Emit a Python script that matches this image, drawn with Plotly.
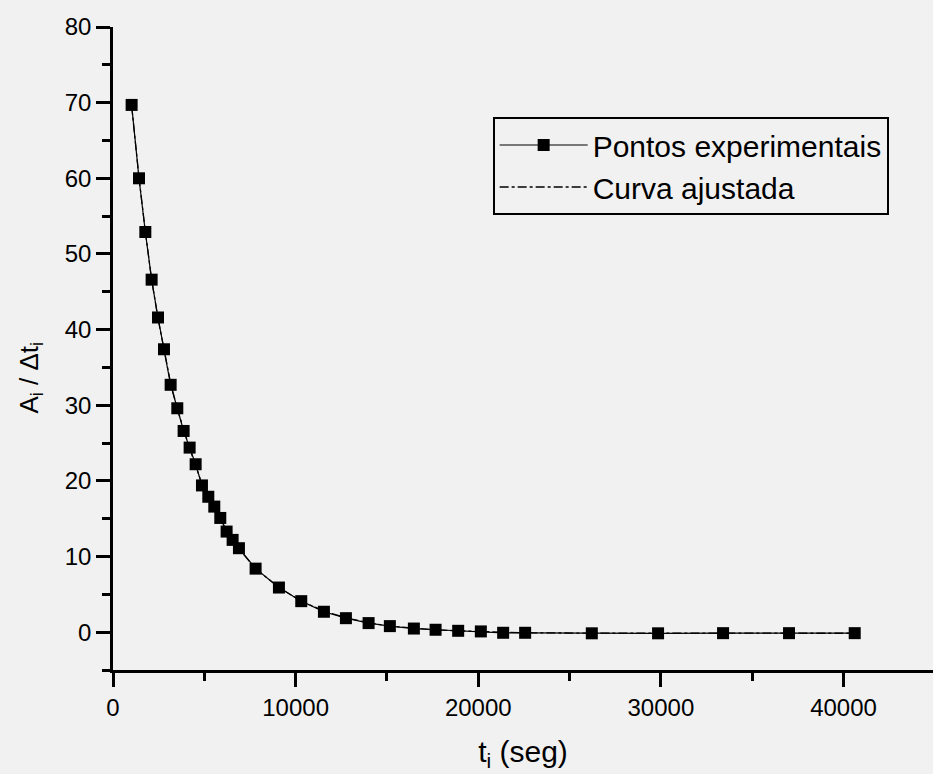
import plotly.graph_objects as go

# Experimental points (t_i in s, A_i/Δt_i)
t_exp = [1020, 1423, 1770, 2115, 2463, 2791, 3156, 3521, 3867, 4196, 4525, 4871,
         5218, 5546, 5875, 6221, 6550, 6896, 7808, 9086, 10308, 11549, 12753,
         13995, 15160, 16475, 17663, 18900, 20142, 21363, 22567, 26218, 29846,
         33404, 37017, 40613]
v_exp = [69.7, 60.0, 52.9, 46.6, 41.6, 37.4, 32.7, 29.6, 26.6, 24.4, 22.2, 19.4,
         17.9, 16.6, 15.1, 13.3, 12.2, 11.1, 8.4, 5.9, 4.1, 2.7, 1.85,
         1.2, 0.8, 0.48, 0.32, 0.18, 0.1, -0.08, -0.08, -0.15, -0.15,
         -0.13, -0.13, -0.13]

# Fitted curve
t_fit = [1020, 1423, 1770, 2115, 2463, 2791, 3156, 3521, 3867, 4196, 4525, 4871,
         5218, 5546, 5875, 6221, 6550, 6896, 7808, 9086, 10308, 11549, 12753,
         13995, 15160, 16475, 17663, 18900, 20142, 21363, 22567, 26218, 29846,
         33404, 37017, 40613]
v_fit = [69.6, 60.1, 53.0, 46.6, 41.5, 37.3, 32.9, 29.5, 26.7, 24.3, 22.0, 19.6,
         17.9, 16.5, 15.0, 13.4, 12.2, 11.0, 8.4, 5.9, 4.1, 2.8, 1.9,
         1.25, 0.8, 0.5, 0.3, 0.18, 0.08, -0.05, -0.08, -0.13, -0.14,
         -0.14, -0.14, -0.14]

x_ticks = [0, 10000, 20000, 30000, 40000]
x_minor = [5000, 15000, 25000, 35000]
y_ticks = [0, 10, 20, 30, 40, 50, 60, 70, 80]
y_minor = [-5, 5, 15, 25, 35, 45, 55, 65, 75]

x_range = [0, 44900]
y_range = [-5, 80]
font_family = "Liberation Sans, Arial, sans-serif"
bg = "#f1f1f1"

fig = go.Figure()

fig.add_trace(go.Scatter(
    x=t_fit, y=v_fit, mode="lines", name="Curva ajustada",
    line=dict(color="black", width=1.3, dash="dashdot"),
    legendrank=2,
))
fig.add_trace(go.Scatter(
    x=t_exp, y=v_exp, mode="lines+markers", name="Pontos experimentais",
    line=dict(color="black", width=1.2),
    marker=dict(symbol="square", size=12, color="black"),
    legendrank=1,
))

fig.update_layout(
    width=933, height=774,
    margin=dict(l=113, r=0, t=27, b=104),
    paper_bgcolor=bg, plot_bgcolor=bg,
    font=dict(family=font_family, color="black", size=24),
    showlegend=True,
    legend=dict(
        x=0.463, y=0.86, xanchor="left", yanchor="top",
        bgcolor=bg, bordercolor="black", borderwidth=2,
        font=dict(size=30, family=font_family),
        itemwidth=88, tracegroupgap=0,
    ),
    xaxis=dict(
        range=x_range, showgrid=False, zeroline=False,
        showline=True, linecolor="black", linewidth=2.5,
        ticks="outside", ticklen=14, tickwidth=2.5, tickcolor="black",
        tickvals=x_ticks, ticktext=[str(v) for v in x_ticks],
        minor=dict(ticks="outside", ticklen=8, tickwidth=2.5, tickcolor="black",
                   tickvals=x_minor),
        tickfont=dict(size=24),
        title=dict(text="t<sub>i</sub> (seg)", font=dict(size=30), standoff=22),
    ),
    yaxis=dict(
        range=y_range, showgrid=False, zeroline=False,
        showline=True, linecolor="black", linewidth=2.5,
        ticks="outside", ticklen=14, tickwidth=2.5, tickcolor="black",
        tickvals=y_ticks, ticktext=[str(v) for v in y_ticks],
        minor=dict(ticks="outside", ticklen=8, tickwidth=2.5, tickcolor="black",
                   tickvals=y_minor),
        tickfont=dict(size=24),
    ),
    annotations=[dict(
        text="A<sub>i</sub> / Δt<sub>i</sub>", textangle=-90,
        xref="paper", yref="paper", x=-0.101, y=0.455,
        xanchor="center", yanchor="middle", showarrow=False,
        font=dict(size=26, family=font_family, color="black"),
    )],
)

fig.write_html("out.html")
